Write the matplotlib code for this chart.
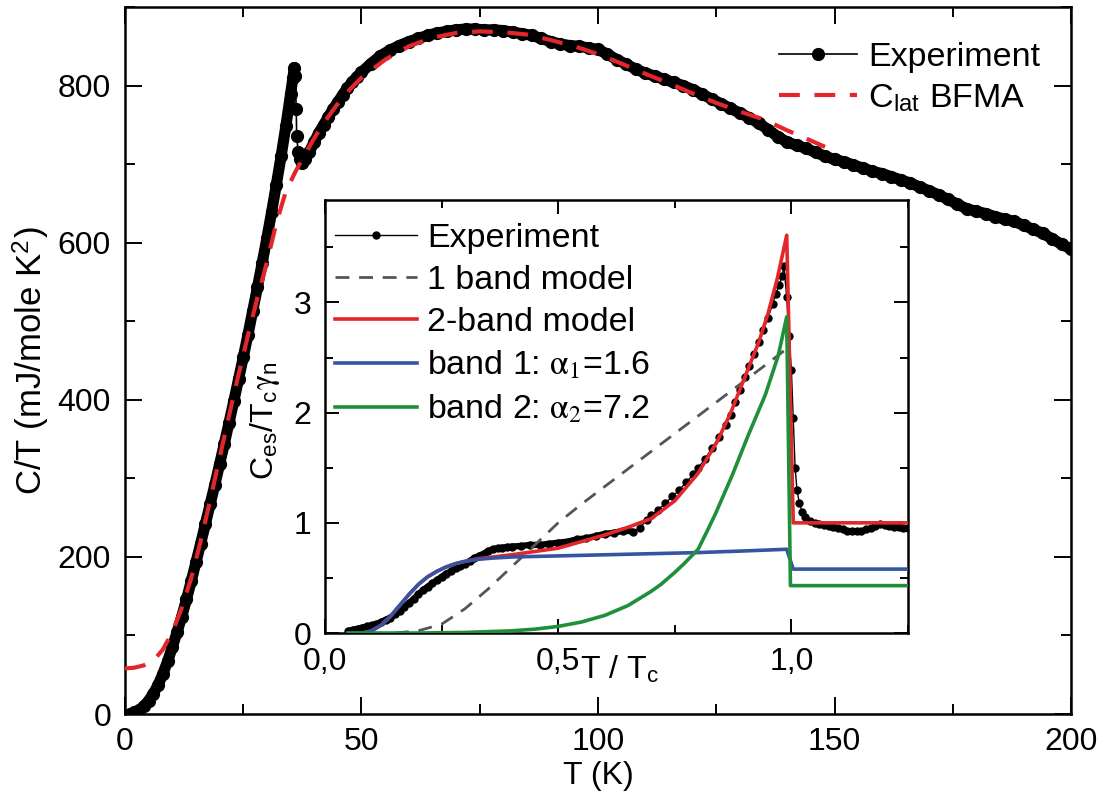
import numpy as np
import matplotlib
matplotlib.use("Agg")
import matplotlib.pyplot as plt
from matplotlib.ticker import MultipleLocator

plt.rcParams['font.family'] = ['Liberation Sans', 'DejaVu Sans']
plt.rcParams['mathtext.fontset'] = 'stix'
plt.rcParams['font.size'] = 23

RED = '#e3262b'
BLUE = '#3653a4'
GREEN = '#1f8f3a'
GRAY = '#555555'

# ---- main panel: total specific heat C/T (mJ/mole K^2) vs T (K) ----
T_exp = [1, 2, 3, 4, 5, 6, 7, 8, 9, 10, 11, 12, 13, 14, 15, 16, 17, 18, 19, 20,
         21, 22, 23, 24, 25, 26, 27, 28, 29, 30, 31, 32, 33, 34, 35, 35.5, 35.8,
         36.0, 36.2, 36.3, 36.6, 37.0, 37.4, 38.0, 39, 40, 41, 42, 43, 44, 45, 46,
         47, 48, 49, 50, 52, 54, 56, 58, 60, 62, 64, 66, 68, 70, 72, 74, 76, 78,
         80, 82, 84, 86, 88, 90, 92, 94, 96, 98, 100, 102, 104, 106, 108, 110, 112,
         114, 116, 118, 120, 122, 124, 126, 128, 130, 132, 134, 136, 138, 140, 142,
         144, 146, 148, 150, 152, 154, 156, 158, 160, 162, 164, 166, 168, 170, 172,
         174, 176, 178, 180, 182, 184, 186, 188, 190, 192, 194, 196, 198, 200]
CT_exp = [0, 2, 5, 10, 17, 26, 37, 51, 67, 85, 104, 124, 146, 169, 193, 217, 242,
          267, 292, 318, 344, 371, 398, 426, 454, 483, 513, 543, 574, 606, 639, 674,
          710, 748, 789, 810, 823, 812, 770, 736, 716, 706, 702, 706, 716, 728, 740,
          750, 760, 770, 779, 788, 797, 804, 811, 817, 828, 838, 845, 851, 856, 860,
          864, 867, 869, 871, 872, 872, 871, 871, 870, 868, 866, 864, 860, 856, 853,
          851, 850, 848, 846, 840, 833, 827, 821, 816, 812, 808, 804, 800, 795, 789,
          783, 777, 771, 765, 759, 752, 744, 735, 728, 724, 720, 715, 710, 706, 703,
          699, 695, 691, 688, 684, 680, 676, 671, 666, 661, 655, 649, 643, 640, 637,
          633, 630, 627, 622, 617, 612, 605, 598, 592]

# lattice contribution (BFMA fit)
T_lat = [0, 2, 4, 6, 8, 10, 12, 14, 16, 18, 20, 22, 24, 26, 28, 30, 32, 34, 36, 38,
         40, 42, 44, 46, 48, 50, 55, 60, 65, 70, 75, 80, 85, 90, 95, 100, 105, 110,
         115, 120, 125, 130, 135, 140, 145, 148]
CT_lat = [58, 59, 62, 68, 82, 104, 135, 173, 220, 272, 326, 380, 432, 482, 530, 575,
          625, 665, 690, 712, 733, 752, 769, 785, 798, 810, 833, 850, 861, 867, 869,
          868, 865, 858, 850, 840, 828, 815, 803, 790, 778, 767, 757, 743, 730, 722]

# ---- inset: electronic specific heat C_es/(Tc gamma_n) vs T/Tc ----
t_exp = [0.05, 0.06, 0.07, 0.08, 0.09, 0.10, 0.11, 0.12, 0.13, 0.14, 0.15, 0.16,
         0.17, 0.18, 0.19, 0.20, 0.21, 0.22, 0.23, 0.24, 0.25, 0.26, 0.27, 0.28,
         0.29, 0.30, 0.31, 0.32, 0.33, 0.34, 0.35, 0.36, 0.37, 0.38, 0.39, 0.40,
         0.42, 0.44, 0.46, 0.48, 0.50, 0.52, 0.54, 0.56, 0.58, 0.60, 0.62, 0.64,
         0.66, 0.675, 0.69, 0.70, 0.715, 0.73, 0.745, 0.76, 0.775, 0.79, 0.80,
         0.815, 0.83, 0.845, 0.86, 0.87, 0.88, 0.89, 0.90, 0.91, 0.92, 0.93, 0.94,
         0.95, 0.96, 0.967, 0.974, 0.98, 0.984, 0.99, 0.995, 1.0, 1.004, 1.008,
         1.012, 1.017, 1.023, 1.03, 1.04, 1.05, 1.06, 1.07, 1.08, 1.09, 1.10, 1.11,
         1.12, 1.13, 1.14, 1.15, 1.16, 1.17, 1.18, 1.19, 1.20, 1.21, 1.22, 1.23,
         1.24, 1.25]
ces_exp = [0.02, 0.03, 0.04, 0.05, 0.06, 0.07, 0.08, 0.10, 0.12, 0.14, 0.17, 0.20,
           0.24, 0.27, 0.31, 0.35, 0.39, 0.42, 0.45, 0.48, 0.51, 0.54, 0.56, 0.59,
           0.61, 0.63, 0.65, 0.68, 0.70, 0.72, 0.745, 0.76, 0.77, 0.775, 0.78, 0.785,
           0.79, 0.80, 0.80, 0.81, 0.82, 0.83, 0.85, 0.86, 0.88, 0.90, 0.91, 0.93,
           0.92, 0.95, 1.03, 1.07, 1.12, 1.18, 1.24, 1.30, 1.37, 1.44, 1.50,
           1.58, 1.68, 1.78, 1.89, 1.98, 2.10, 2.21, 2.32, 2.42, 2.53, 2.64, 2.75,
           2.86, 2.99, 3.08, 3.16, 3.24, 3.33, 3.05, 2.70, 2.39, 1.95, 1.50,
           1.30, 1.18, 1.10, 1.05, 1.02, 1.00, 0.99, 0.98, 0.97, 0.96, 0.95, 0.94,
           0.93, 0.93, 0.93, 0.93, 0.94, 0.95, 0.97, 0.99, 0.98, 0.97, 0.96, 0.96,
           0.95, 0.95]

t_1band = [0.15, 0.20, 0.25, 0.30, 0.35, 0.40, 0.45, 0.50, 0.55, 0.60, 0.65, 0.70,
           0.75, 0.80, 0.85, 0.90, 0.95, 0.99]
c_1band = [0.0, 0.02, 0.08, 0.22, 0.40, 0.60, 0.80, 1.00, 1.17, 1.33, 1.49, 1.65,
           1.81, 1.97, 2.13, 2.29, 2.45, 2.58]

t_2band = [0.05, 0.08, 0.10, 0.12, 0.14, 0.16, 0.18, 0.20, 0.22, 0.24, 0.26, 0.28,
           0.30, 0.33, 0.36, 0.40, 0.45, 0.50, 0.55, 0.60, 0.65, 0.70, 0.75, 0.80,
           0.84, 0.87, 0.90, 0.93, 0.95, 0.97, 0.99, 1.004, 1.25]
c_2band = [0.0, 0.0, 0.02, 0.07, 0.15, 0.25, 0.35, 0.44, 0.51, 0.56, 0.60, 0.63,
           0.65, 0.675, 0.69, 0.71, 0.74, 0.77, 0.83, 0.89, 0.96, 1.04, 1.20, 1.45,
           1.73, 2.00, 2.32, 2.64, 2.90, 3.22, 3.61, 1.00, 1.00]

t_band1 = [0.05, 0.08, 0.10, 0.12, 0.14, 0.16, 0.18, 0.20, 0.22, 0.24, 0.26, 0.28,
           0.30, 0.33, 0.36, 0.40, 0.50, 0.60, 0.70, 0.80, 0.90, 0.99, 1.004, 1.25]
c_band1 = [0.0, 0.0, 0.02, 0.07, 0.15, 0.25, 0.35, 0.44, 0.51, 0.56, 0.60, 0.63,
           0.65, 0.67, 0.68, 0.69, 0.70, 0.71, 0.72, 0.73, 0.745, 0.76, 0.58, 0.58]

t_band2 = [0.05, 0.20, 0.30, 0.40, 0.45, 0.50, 0.55, 0.60, 0.65, 0.70, 0.72, 0.75,
           0.77, 0.80, 0.82, 0.837, 0.873, 0.908, 0.944, 0.972, 0.99, 0.998, 1.25]
c_band2 = [0.0, 0.0, 0.005, 0.02, 0.035, 0.06, 0.10, 0.16, 0.25, 0.38, 0.44, 0.55,
           0.63, 0.76, 0.93, 1.08, 1.43, 1.80, 2.16, 2.52, 2.87, 0.43, 0.43]

inset_xticks = [0.0, 0.5, 1.0]
inset_xticklabels = ['0,0', '0,5', '1,0']
inset_yticks = [0, 1, 2, 3]


def style_axes(ax, maj_len, min_len):
    ax.tick_params(which='both', direction='in', top=True, right=True, width=1.4)
    ax.tick_params(which='major', length=maj_len)
    ax.tick_params(which='minor', length=min_len)
    ax.tick_params(axis='x', which='major', pad=9)
    ax.tick_params(axis='y', which='major', pad=10)
    for sp in ax.spines.values():
        sp.set_linewidth(1.8)


fig = plt.figure(figsize=(11.07, 8.10), dpi=100)
ax = fig.add_axes([0.1129, 0.1185, 0.8546, 0.8728])

T = np.array(T_exp)
CT = np.array(CT_exp)
# thick backing band for the dense data (left apart across the jump at Tc)
for m in (T <= 35.8, T >= 37.0):
    ax.plot(T[m], CT[m], color='k', lw=8, solid_capstyle='round',
            solid_joinstyle='round', zorder=2)
ax.plot(T, CT, 'o-', color='k', lw=1.2, ms=8.5, label='Experiment', zorder=3)
ax.plot(T_lat, CT_lat, color=RED, lw=3, dashes=(5, 3.5),
        label=r'C$_\mathregular{lat}$ BFMA', zorder=4)

ax.set_xlim(0, 200)
ax.set_ylim(0, 900)
ax.xaxis.set_major_locator(MultipleLocator(50))
ax.xaxis.set_minor_locator(MultipleLocator(25))
ax.yaxis.set_major_locator(MultipleLocator(200))
ax.yaxis.set_minor_locator(MultipleLocator(100))
style_axes(ax, 12, 7)
ax.set_xlabel('T (K)', labelpad=3)
ax.text(-0.100, 0.50, r'C/T (mJ/mole K$^\mathregular{2}$)', rotation=90,
        ha='center', va='center', fontsize=25, transform=ax.transAxes)
ax.legend(loc='upper left', bbox_to_anchor=(0.691, 0.950), frameon=False,
          fontsize=24.5, handlelength=2.3, handletextpad=0.32, labelspacing=0.27,
          borderpad=0, borderaxespad=0)

# ---- inset ----
ax_in = fig.add_axes([0.2936, 0.2185, 0.5266, 0.5346])
t = np.array(t_exp)
ce = np.array(ces_exp)
low = t <= 0.66
ax_in.plot(t[low], ce[low], color='k', lw=4.5, solid_capstyle='round', zorder=2)
ax_in.plot(t, ce, 'o-', color='k', lw=1, ms=5, label='Experiment', zorder=2)
ax_in.plot(t_1band, c_1band, color=GRAY, lw=2, dashes=(5, 3.5),
           label='1 band model', zorder=3)
ax_in.plot(t_2band, c_2band, color=RED, lw=2.6, label='2-band model', zorder=4)
ax_in.plot(t_band1, c_band1, color=BLUE, lw=2.6,
           label=r'band 1: $\mathrm{\alpha}_\mathrm{1}$=1.6', zorder=5)
ax_in.plot(t_band2, c_band2, color=GREEN, lw=2.6,
           label=r'band 2: $\mathrm{\alpha}_\mathrm{2}$=7.2', zorder=6)

ax_in.set_xlim(0, 1.25)
ax_in.set_ylim(0, 3.93)
ax_in.set_xticks(inset_xticks, inset_xticklabels)
ax_in.set_yticks(inset_yticks)
ax_in.xaxis.set_minor_locator(MultipleLocator(0.25))
ax_in.yaxis.set_minor_locator(MultipleLocator(0.5))
style_axes(ax_in, 10, 6)
ax_in.tick_params(axis='x', which='major', pad=10)
ax_in.text(0.437, -0.05, r'T / T$_\mathregular{c}$', ha='left', va='top',
           transform=ax_in.transAxes)
ax_in.text(-0.103, 0.49,
           r'C$_\mathregular{es}$/T$_\mathregular{c}$$\mathrm{\gamma}_\mathregular{n}$',
           rotation=90, ha='center', va='center', transform=ax_in.transAxes)
ax_in.legend(loc='upper left', bbox_to_anchor=(0.017, 0.948), frameon=False,
             fontsize=24.5, handlelength=2.4, handletextpad=0.3, labelspacing=0.33,
             borderpad=0, borderaxespad=0)

fig.savefig('out.png', dpi=100)
